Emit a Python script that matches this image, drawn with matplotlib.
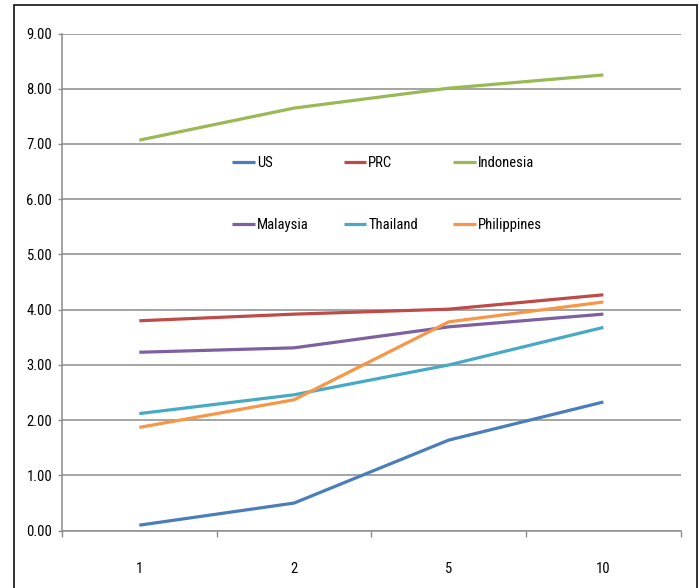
import matplotlib
matplotlib.use("Agg")
import matplotlib.pyplot as plt
from matplotlib.patches import Rectangle

plt.rcParams['font.family'] = ['Roboto Condensed', 'DejaVu Sans']

categories = ["1", "2", "5", "10"]
us = [0.10, 0.50, 1.64, 2.33]
prc = [3.80, 3.92, 4.01, 4.27]
indonesia = [7.07, 7.65, 8.01, 8.25]
malaysia = [3.23, 3.31, 3.69, 3.92]
thailand = [2.12, 2.46, 3.00, 3.68]
philippines = [1.87, 2.37, 3.78, 4.14]
y_ticks = [0, 1, 2, 3, 4, 5, 6, 7, 8, 9]

series = [
    ("US", us, "#4a7ebb"),
    ("PRC", prc, "#be4b48"),
    ("Indonesia", indonesia, "#98b954"),
    ("Malaysia", malaysia, "#7d60a0"),
    ("Thailand", thailand, "#46aac5"),
    ("Philippines", philippines, "#f79646"),
]

W, H = 699, 588
fig = plt.figure(figsize=(W / 100, H / 100), dpi=100)
ax = fig.add_axes([62 / W, 1 - 530.7 / H, (680.7 - 62) / W, (530.7 - 33.5) / H])

x = list(range(len(categories)))
lines = {}
for name, vals, col in series:
    lines[name], = ax.plot(x, vals, color=col, lw=2.3, label=name, solid_capstyle='butt')

ax.set_xlim(-0.5, len(categories) - 0.5)
ax.set_ylim(0, 9)
ax.set_yticks(y_ticks)
ax.set_yticklabels([f"{v:.2f}" for v in y_ticks])
ax.set_xticks(x)
ax.set_xticklabels(categories)
ax.set_xticks([i - 0.5 for i in range(len(categories) + 1)], minor=True)
ax.tick_params(axis='x', which='major', length=0, pad=22.5, labelsize=10.5)
ax.tick_params(axis='x', which='minor', length=4.5, width=1, color='#8c8c8c', direction='out')
ax.tick_params(axis='y', length=3, width=1, color='#8c8c8c', pad=4, labelsize=10.5)
ax.grid(axis='y', color='#8c8c8c', lw=1.1)
ax.set_axisbelow(True)
for s in ['top', 'right']:
    ax.spines[s].set_visible(False)
for s in ['left', 'bottom']:
    ax.spines[s].set_color('#8c8c8c')
    ax.spines[s].set_linewidth(1.1)

# legend entries filled row by row (3 columns)
order = ["US", "Malaysia", "PRC", "Thailand", "Indonesia", "Philippines"]
leg = ax.legend([lines[n] for n in order], order, ncol=3, loc='upper left',
                bbox_to_anchor=(232 / W, 1 - 156 / H),
                bbox_transform=fig.transFigure, frameon=False, fontsize=10.5,
                handlelength=1.55, handletextpad=0.15, columnspacing=2.4,
                labelspacing=3.28, borderpad=0, borderaxespad=0)

fig.patches.append(Rectangle((14 / W, -0.05), (697 - 14) / W, 1.05 - 5 / H,
                             transform=fig.transFigure, fill=False,
                             edgecolor='#222222', lw=1.3, figure=fig))

fig.savefig("out.png", dpi=100)
